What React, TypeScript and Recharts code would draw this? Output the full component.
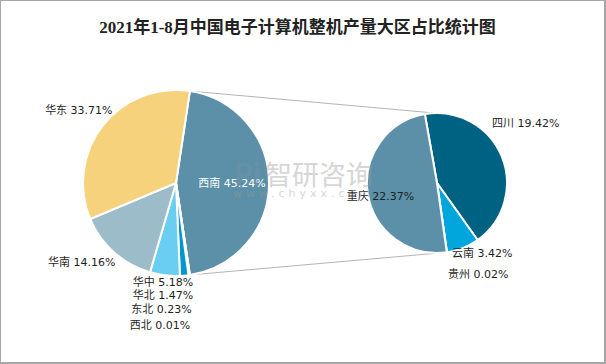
import { PieChart, Pie, Cell, Customized } from 'recharts'

// 大区占比（%）
const regionNames = ['西南', '西北', '东北', '华北', '华中', '华南', '华东']
const regionShares = [45.24, 0.01, 0.23, 1.47, 5.18, 14.16, 33.71]
// 西南细分省市（%）
const provinceNames = ['四川', '云南', '贵州', '重庆']
const provinceShares = [19.42, 3.42, 0.02, 22.37]

const regionColors = ['#5b90a8', '#0a86bf', '#0a86bf', '#0096d2', '#6acdf2', '#9dbcca', '#f5d27b']
const provinceColors = ['#006283', '#00a6dc', '#00a6dc', '#5b90a8']

const W = 606
const H = 364
const LEFT = { cx: 176, cy: 183, r: 93 }
const RIGHT = { cx: 437, cy: 183, r: 70 }
const RAD = Math.PI / 180
const LABEL_FONT = '"DejaVu Sans", "Noto Sans CJK SC", sans-serif'

// label centre: [clockwise angle from 12 o'clock, distance from pie centre]
const labelSpots: Record<string, [number, number]> = {
  西南: [90, 56], 华东: [306.6, 121], 华南: [230, 123], 华中: [187.5, 100],
  华北: [186.6, 113], 东北: [186.6, 127], 西北: [186.4, 143],
  四川: [56, 107], 重庆: [257, 58], 云南: [147.4, 84], 贵州: [155.7, 100],
}

const regionData = regionNames.map((name, i) => ({ name, value: regionShares[i] }))
const provinceData = provinceNames.map((name, i) => ({ name, value: provinceShares[i] }))

const regionTotal = regionShares.reduce((a, b) => a + b, 0)
const otherHalfAngle = (regionShares[0] / regionTotal) * 180

function edge(c: { cx: number; cy: number; r: number }, angle: number) {
  return { x: c.cx + c.r * Math.cos(angle * RAD), y: c.cy - c.r * Math.sin(angle * RAD) }
}

function makeLabel(center: { cx: number; cy: number }) {
  return (props: any) => {
    const name: string = props.name ?? props.payload?.name
    const value: number = props.value ?? props.payload?.value
    const spot = labelSpots[name]
    if (!spot) return null
    const x = center.cx + spot[1] * Math.sin(spot[0] * RAD)
    const y = center.cy - spot[1] * Math.cos(spot[0] * RAD)
    return (
      <text x={x} y={y} textAnchor="middle" dominantBaseline="central" fontSize={11}
        fontFamily={LABEL_FONT} fill={name === '西南' ? '#ffffff' : '#1e1e1e'}>
        {`${name} ${value.toFixed(2)}%`}
      </text>
    )
  }
}

function Connectors() {
  const a = edge(LEFT, otherHalfAngle)
  const b = edge(RIGHT, 92)
  const c = edge(LEFT, -otherHalfAngle)
  const d = edge(RIGHT, -82)
  return (
    <g stroke="#b4b4b4" strokeWidth={1}>
      <line x1={a.x} y1={a.y} x2={b.x} y2={b.y} />
      <line x1={c.x} y1={c.y} x2={d.x} y2={d.y} />
    </g>
  )
}

// semi-transparent watermark laid over the chart
function Watermark() {
  return (
    <svg width={W} height={H} style={{ position: 'absolute', left: -1, top: -1, pointerEvents: 'none' }}>
      <g opacity={0.4}>
        <text x={247} y={185} textAnchor="middle" fontSize={30} fontWeight="bold" fontFamily="Lato, sans-serif" fill="#7d93aa">Pi</text>
        <text x={319} y={185} textAnchor="middle" fontSize={27} fontFamily='"Noto Sans CJK SC", sans-serif' fill="#9a9a9a">智研咨询</text>
        <text x={233} y={197} fontSize={11} letterSpacing={4} fontFamily='"DejaVu Sans", sans-serif' fill="#9a9a9a">www.chyxx.com</text>
      </g>
    </svg>
  )
}

export default function App() {
  return (
    <div style={{ position: 'absolute', left: 0, top: 0, width: W, height: H, background: '#fff',
      boxSizing: 'border-box', border: '1px solid #a6a6a6', borderRightWidth: 2, borderBottomWidth: 2 }}>
      <div style={{ position: 'absolute', left: 0, top: 15, width: 593, textAlign: 'center', fontSize: 17,
        fontWeight: 'bold', color: '#222', fontFamily: '"Liberation Serif", "Noto Sans CJK SC", serif', lineHeight: '24px' }}>
        2021年1-8月中国电子计算机整机产量大区占比统计图
      </div>
      <div style={{ position: 'absolute', left: -1, top: -1 }}>
        <PieChart width={W} height={H} margin={{ top: 0, right: 0, bottom: 0, left: 0 }}>
          <Customized component={Connectors} />
          <Pie data={regionData} dataKey="value" nameKey="name" cx={LEFT.cx} cy={LEFT.cy} outerRadius={LEFT.r}
            startAngle={otherHalfAngle} endAngle={otherHalfAngle - 360} stroke="#ffffff" strokeWidth={2}
            label={makeLabel(LEFT)} labelLine={false} isAnimationActive={false}>
            {regionData.map((d, i) => <Cell key={d.name} fill={regionColors[i]} />)}
          </Pie>
          <Pie data={provinceData} dataKey="value" nameKey="name" cx={RIGHT.cx} cy={RIGHT.cy} outerRadius={RIGHT.r}
            startAngle={100} endAngle={-260} stroke="#ffffff" strokeWidth={2}
            label={makeLabel(RIGHT)} labelLine={false} isAnimationActive={false}>
            {provinceData.map((d, i) => <Cell key={d.name} fill={provinceColors[i]} />)}
          </Pie>
        </PieChart>
      </div>
      <Watermark />
    </div>
  )
}
